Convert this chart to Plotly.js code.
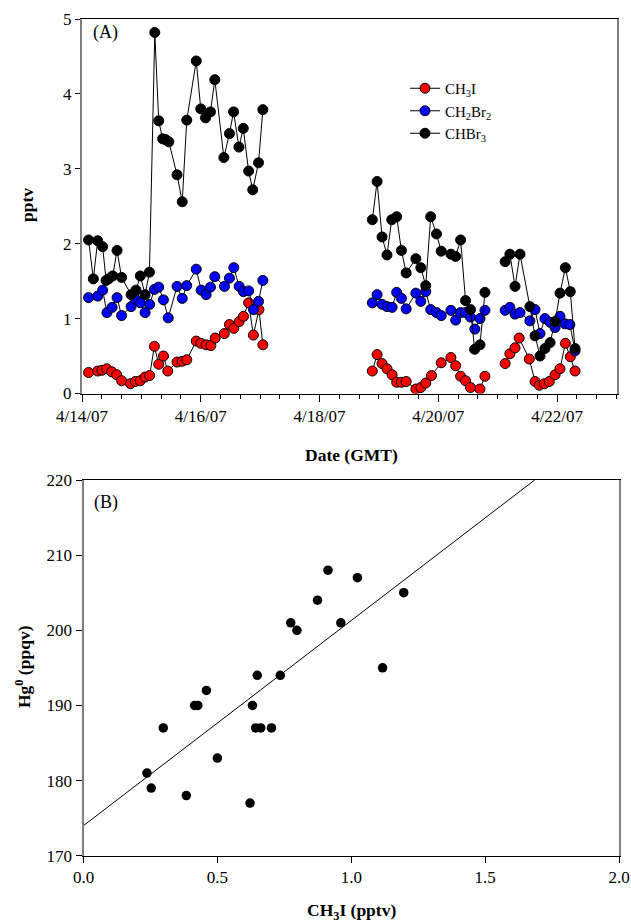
<!DOCTYPE html>
<html>
<head>
<meta charset="utf-8">
<script src="https://cdn.plot.ly/plotly-3.0.1.min.js"></script>
<style>html,body{margin:0;padding:0;background:#fff;} #chart{width:631px;height:924px;}</style>
</head>
<body>
<div id="chart"></div>
<script>
// ---------- Panel A: time series (pptv) ----------
var ch3iTime = [
 "2007-04-14 02:40","2007-04-14 06:20","2007-04-14 08:05","2007-04-14 10:00","2007-04-14 12:00","2007-04-14 14:00","2007-04-14 16:00","2007-04-14 19:35","2007-04-14 21:35","2007-04-14 23:30",
 "2007-04-15 01:30","2007-04-15 03:20","2007-04-15 05:15","2007-04-15 07:00","2007-04-15 08:55","2007-04-15 10:40","2007-04-15 14:25","2007-04-15 16:30","2007-04-15 18:20","2007-04-15 22:10",
 "2007-04-16 00:00","2007-04-16 02:10","2007-04-16 04:05","2007-04-16 05:50","2007-04-16 09:30","2007-04-16 11:35","2007-04-16 13:20","2007-04-16 15:30","2007-04-16 17:15","2007-04-16 19:20",
 "2007-04-16 21:15","2007-04-16 23:30","2007-04-17 01:05",
 "2007-04-18 00:00",
 "2007-04-18 21:20","2007-04-18 23:15","2007-04-19 01:15","2007-04-19 03:15","2007-04-19 05:20","2007-04-19 07:10","2007-04-19 09:05","2007-04-19 11:00","2007-04-19 14:55","2007-04-19 16:55",
 "2007-04-19 18:55","2007-04-19 21:15","2007-04-20 01:10","2007-04-20 05:05","2007-04-20 07:00","2007-04-20 09:00","2007-04-20 11:00","2007-04-20 13:00","2007-04-20 16:50","2007-04-20 18:50",
 "2007-04-21 00:00",
 "2007-04-21 03:00","2007-04-21 04:55","2007-04-21 07:00","2007-04-21 08:40","2007-04-21 12:45","2007-04-21 15:05","2007-04-21 16:50","2007-04-21 18:50","2007-04-21 20:50","2007-04-21 23:10",
 "2007-04-22 01:10","2007-04-22 03:20","2007-04-22 05:20","2007-04-22 07:15"
];
var ch3iValue = [
 0.28,0.30,0.31,0.33,0.29,0.25,0.17,0.13,0.16,0.17,
 0.22,0.24,0.63,0.39,0.50,0.30,0.42,0.43,0.45,0.70,
 0.67,0.65,0.64,0.74,0.80,0.92,0.87,0.96,1.03,1.21,
 0.78,1.12,0.65,
 null,
 0.30,0.52,0.40,0.33,0.25,0.15,0.15,0.16,0.06,0.08,
 0.14,0.24,0.41,0.48,0.37,0.23,0.17,0.08,0.06,0.23,
 null,
 0.40,0.53,0.61,0.74,0.46,0.16,0.11,0.13,0.16,0.25,
 0.33,0.67,0.49,0.30
];

var ch2br2Time = [
 "2007-04-14 02:40","2007-04-14 06:20","2007-04-14 08:20","2007-04-14 10:05","2007-04-14 12:10","2007-04-14 14:10","2007-04-14 16:00","2007-04-14 19:50","2007-04-14 21:35","2007-04-14 23:35",
 "2007-04-15 01:30","2007-04-15 03:20","2007-04-15 05:15","2007-04-15 07:00","2007-04-15 08:55","2007-04-15 10:50","2007-04-15 14:25","2007-04-15 16:30","2007-04-15 18:20","2007-04-15 22:10",
 "2007-04-16 00:10","2007-04-16 02:10","2007-04-16 03:55","2007-04-16 05:40","2007-04-16 09:35","2007-04-16 11:35","2007-04-16 13:20","2007-04-16 15:30","2007-04-16 17:15","2007-04-16 19:20",
 "2007-04-16 21:20","2007-04-16 23:20","2007-04-17 01:05",
 "2007-04-18 00:00",
 "2007-04-18 21:20","2007-04-18 23:15","2007-04-19 01:15","2007-04-19 03:15","2007-04-19 05:20","2007-04-19 07:10","2007-04-19 09:05","2007-04-19 11:00","2007-04-19 14:55","2007-04-19 16:55",
 "2007-04-19 18:55","2007-04-19 20:55","2007-04-19 23:15","2007-04-20 01:10","2007-04-20 05:05","2007-04-20 07:00","2007-04-20 09:00","2007-04-20 11:00","2007-04-20 13:00","2007-04-20 14:45",
 "2007-04-20 16:50","2007-04-20 18:50",
 "2007-04-21 00:00",
 "2007-04-21 03:00","2007-04-21 04:55","2007-04-21 07:00","2007-04-21 09:00","2007-04-21 13:00","2007-04-21 15:05","2007-04-21 17:05","2007-04-21 19:05","2007-04-21 21:10","2007-04-21 23:10",
 "2007-04-22 01:10","2007-04-22 03:10","2007-04-22 05:10","2007-04-22 07:15"
];
var ch2br2Value = [
 1.28,1.30,1.38,1.08,1.15,1.28,1.04,1.16,1.26,1.21,
 1.08,1.19,1.39,1.42,1.25,1.01,1.43,1.27,1.44,1.66,
 1.38,1.32,1.42,1.56,1.43,1.54,1.68,1.43,1.36,1.37,
 1.12,1.23,1.51,
 null,
 1.21,1.32,1.19,1.16,1.15,1.35,1.27,1.13,1.34,1.23,
 1.36,1.12,1.08,1.04,1.11,0.98,1.08,1.08,1.02,0.86,
 1.00,1.11,
 null,
 1.11,1.15,1.06,1.08,0.97,1.12,0.80,1.00,0.95,0.88,
 1.03,0.93,0.92,0.57
];

var chbr3Time = [
 "2007-04-14 02:40","2007-04-14 04:35","2007-04-14 06:20","2007-04-14 08:20","2007-04-14 09:45","2007-04-14 10:45","2007-04-14 12:25","2007-04-14 14:10","2007-04-14 16:00","2007-04-14 19:50",
 "2007-04-14 21:50","2007-04-14 23:35","2007-04-15 01:30","2007-04-15 03:15","2007-04-15 05:25","2007-04-15 07:00","2007-04-15 08:35","2007-04-15 09:45","2007-04-15 11:05","2007-04-15 14:25",
 "2007-04-15 16:30","2007-04-15 18:20","2007-04-15 22:10","2007-04-16 00:00","2007-04-16 01:55","2007-04-16 03:55","2007-04-16 05:40","2007-04-16 09:20","2007-04-16 11:35","2007-04-16 13:15",
 "2007-04-16 15:25","2007-04-16 17:10","2007-04-16 19:20","2007-04-16 21:00","2007-04-16 23:20","2007-04-17 01:05",
 "2007-04-18 00:00",
 "2007-04-18 21:20","2007-04-18 23:15","2007-04-19 01:15","2007-04-19 03:15","2007-04-19 05:10","2007-04-19 07:10","2007-04-19 09:05","2007-04-19 11:00","2007-04-19 14:55","2007-04-19 16:55",
 "2007-04-19 18:55","2007-04-19 20:55","2007-04-19 23:15","2007-04-20 01:10","2007-04-20 05:05","2007-04-20 07:00","2007-04-20 09:00","2007-04-20 11:00","2007-04-20 13:00","2007-04-20 14:40",
 "2007-04-20 16:50","2007-04-20 18:50",
 "2007-04-21 00:00",
 "2007-04-21 03:00","2007-04-21 04:55","2007-04-21 07:00","2007-04-21 09:00","2007-04-21 13:00","2007-04-21 15:05","2007-04-21 17:05","2007-04-21 19:05","2007-04-21 21:10","2007-04-21 23:10",
 "2007-04-22 01:10","2007-04-22 03:20","2007-04-22 05:20","2007-04-22 07:15"
];
var chbr3Value = [
 2.05,1.53,2.04,1.96,1.51,1.53,1.57,1.91,1.55,1.32,
 1.38,1.57,1.32,1.62,4.82,3.64,3.40,3.39,3.36,2.92,
 2.56,3.65,4.44,3.80,3.68,3.76,4.19,3.15,3.47,3.76,
 3.29,3.54,2.97,2.72,3.08,3.79,
 null,
 2.32,2.83,2.09,1.85,2.32,2.36,1.91,1.61,1.80,1.68,
 1.44,2.36,2.13,1.90,1.86,1.83,2.05,1.24,1.12,0.59,
 0.65,1.35,
 null,
 1.76,1.86,1.43,1.86,1.16,0.77,0.50,0.60,0.68,0.96,
 1.34,1.68,1.36,0.60
];

// ---------- Panel B: Hg0 vs CH3I ----------
var scatterCH3I = [0.237,0.253,0.298,0.384,0.415,0.427,0.459,0.500,0.622,0.631,0.649,0.643,0.662,0.702,0.735,0.774,0.797,0.874,0.913,0.961,1.023,1.117,1.196];
var scatterHg   = [181,179,187,178,190,190,192,183,177,190,194,187,187,187,194,201,200,204,208,201,207,195,205];
var fitX = [0, 1.685];
var fitY = [174, 220];

var seriesNames = ["CH<sub>3</sub>I", "CH<sub>2</sub>Br<sub>2</sub>", "CHBr<sub>3</sub>"];
var seriesColors = ["#ff0000", "#0000ff", "#000000"];

var FONT = "Liberation Serif, Times New Roman, serif";
var W = 631, H = 924;

function tsTrace(t, v, i) {
  return {
    type: "scatter", mode: "lines+markers", x: t, y: v, name: seriesNames[i],
    xaxis: "x", yaxis: "y", connectgaps: false,
    line: {color: "#000000", width: 1},
    marker: {color: seriesColors[i], size: 10, line: {color: "#000000", width: 1}}
  };
}

var data = [
  tsTrace(ch3iTime, ch3iValue, 0),
  tsTrace(ch2br2Time, ch2br2Value, 1),
  tsTrace(chbr3Time, chbr3Value, 2),
  {type: "scatter", mode: "lines", x: fitX, y: fitY, xaxis: "x2", yaxis: "y2", showlegend: false,
   line: {color: "#000000", width: 1}},
  {type: "scatter", mode: "markers", x: scatterCH3I, y: scatterHg, xaxis: "x2", yaxis: "y2", showlegend: false,
   marker: {color: "#000000", size: 9.5}}
];

var axisCommon = {
  showgrid: false, zeroline: false, showline: true, mirror: true,
  ticks: "outside", tickcolor: "#000000", tickwidth: 1,
  tickfont: {family: FONT, size: 17, color: "#000000"}, automargin: false
};

var layout = {
  width: W, height: H,
  margin: {l: 0, r: 0, t: 0, b: 0},
  paper_bgcolor: "#ffffff", plot_bgcolor: "#ffffff",
  font: {family: FONT, color: "#000000"},
  xaxis: Object.assign({}, axisCommon, {
    type: "date", domain: [82/W, 616.5/W], anchor: "y",
    range: ["2007-04-14 00:00", "2007-04-23 00:00"],
    tick0: "2007-04-14", dtick: 2*86400000, tickformat: "%-m/%-d/%y", ticklen: 7,
    linecolor: "#000000", linewidth: 1,
    minor: {dtick: 8*3600000, ticks: "outside", ticklen: 4, tickcolor: "#000000", showgrid: false}
  }),
  yaxis: Object.assign({}, axisCommon, {
    domain: [1 - 393.5/H, 1 - 19/H], anchor: "x",
    range: [0, 5], dtick: 1, ticklen: 5,
    linecolor: "#808080", linewidth: 2
  }),
  xaxis2: Object.assign({}, axisCommon, {
    domain: [83.5/W, 619/W], anchor: "y2",
    range: [0, 2], dtick: 0.5, tickformat: ".1f", ticklen: 6,
    linecolor: "#000000", linewidth: 1
  }),
  yaxis2: Object.assign({}, axisCommon, {
    domain: [1 - 855.7/H, 1 - 480/H], anchor: "x2",
    range: [170, 220], dtick: 10, ticklen: 6,
    linecolor: "#808080", linewidth: 2
  }),
  showlegend: true,
  legend: {
    x: 405/W, y: 1 - 72/H, xanchor: "left", yanchor: "top",
    bgcolor: "rgba(0,0,0,0)", borderwidth: 0,
    font: {family: FONT, size: 15, color: "#000000"},
    tracegroupgap: 0
  },
  annotations: [
    {xref: "paper", yref: "paper", x: 91/W, y: 1 - 33/H, xanchor: "left", yanchor: "middle", showarrow: false,
     text: "(A)", font: {family: FONT, size: 18}},
    {xref: "paper", yref: "paper", x: 92/W, y: 1 - 502/H, xanchor: "left", yanchor: "middle", showarrow: false,
     text: "(B)", font: {family: FONT, size: 18}},
    {xref: "paper", yref: "paper", x: 27/W, y: 1 - 205/H, xanchor: "center", yanchor: "middle", showarrow: false,
     textangle: -90, text: "<b>pptv</b>", font: {family: FONT, size: 17.5}},
    {xref: "paper", yref: "paper", x: 351/W, y: 1 - 455/H, xanchor: "center", yanchor: "middle", showarrow: false,
     text: "<b>Date (GMT)</b>", font: {family: FONT, size: 17.5}},
    {xref: "paper", yref: "paper", x: 23/W, y: 1 - 667/H, xanchor: "center", yanchor: "middle", showarrow: false,
     textangle: -90, text: "<b>Hg<sup>0</sup> (ppqv)</b>", font: {family: FONT, size: 17.5}},
    {xref: "paper", yref: "paper", x: 351/W, y: 1 - 911/H, xanchor: "center", yanchor: "middle", showarrow: false,
     text: "<b>CH<sub>3</sub>I (pptv)</b>", font: {family: FONT, size: 17.5}}
  ]
};

Plotly.newPlot("chart", data, layout, {displayModeBar: false, staticPlot: true});
</script>
</body>
</html>
